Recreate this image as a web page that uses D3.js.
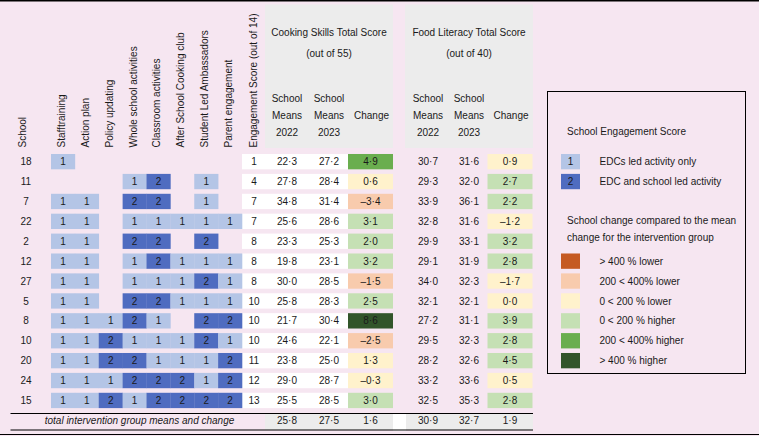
<!DOCTYPE html>
<html>
<head>
<meta charset="utf-8">
<script src="https://cdn.jsdelivr.net/npm/d3@7"></script>
<style>
	body { margin: 0; background: #f6e6f1; }
	svg { display: block; font-family: "Liberation Sans", Arial, sans-serif; font-size: 10px; }
	text { fill: #1a1a1a; }
</style>
</head>
<body>
<svg id="table"></svg>
<script>
let schools = ['18', '11', '7', '22', '2', '12', '27', '5', '8', '10', '20', '24', '15'];
let activities = [
	'Stafftraining',
	'Action plan',
	'Policy updating',
	'Whole school activities',
	'Classroom activities',
	'After School Cooking club',
	'Student Led Ambassadors',
	'Parent engagement'
];
// 0 = nothing, 1 = EDC led, 2 = EDC and school led
let engagementLevels = [
	[1, 0, 0, 0, 0, 0, 0, 0],
	[0, 0, 0, 1, 2, 0, 1, 0],
	[1, 1, 0, 2, 2, 0, 1, 0],
	[1, 1, 0, 1, 1, 1, 1, 1],
	[1, 1, 0, 2, 2, 0, 2, 0],
	[1, 1, 0, 1, 2, 1, 1, 1],
	[1, 1, 0, 1, 1, 1, 2, 1],
	[1, 1, 0, 2, 2, 1, 1, 1],
	[1, 1, 1, 2, 1, 0, 2, 2],
	[1, 1, 2, 1, 1, 1, 2, 1],
	[1, 1, 2, 2, 1, 1, 1, 2],
	[1, 1, 1, 2, 2, 2, 1, 2],
	[1, 1, 2, 1, 2, 2, 2, 2]
];
let engagementScore = [1, 4, 7, 7, 8, 8, 8, 10, 10, 10, 11, 12, 13];

let cookMean2022 = [22.3, 27.8, 34.8, 25.6, 23.3, 19.8, 30.0, 25.8, 21.7, 24.6, 23.8, 29.0, 25.5];
let cookMean2023 = [27.2, 28.4, 31.4, 28.6, 25.3, 23.1, 28.5, 28.3, 30.4, 22.1, 25.0, 28.7, 28.5];
let cookChange = [4.9, 0.6, -3.4, 3.1, 2.0, 3.2, -1.5, 2.5, 8.6, -2.5, 1.3, -0.3, 3.0];
let cookBand = [4, 2, 1, 3, 3, 3, 1, 3, 5, 1, 2, 2, 3];
let cookTotal = [25.8, 27.5, 1.6];

let foodMean2022 = [30.7, 29.3, 33.9, 32.8, 29.9, 29.1, 34.0, 32.1, 27.2, 29.5, 28.2, 33.2, 32.5];
let foodMean2023 = [31.6, 32.0, 36.1, 31.6, 33.1, 31.9, 32.3, 32.1, 31.1, 32.3, 32.6, 33.6, 35.3];
let foodChange = [0.9, 2.7, 2.2, -1.2, 3.2, 2.8, -1.7, 0.0, 3.9, 2.8, 4.5, 0.5, 2.8];
let foodBand = [2, 3, 3, 2, 3, 3, 2, 2, 3, 3, 3, 2, 3];
let foodTotal = [30.9, 32.7, 1.9];

let bandLabels = [
	'> 400 % lower',
	'200 < 400% lower',
	'0 < 200 % lower',
	'0 < 200 % higher',
	'200 < 400% higher',
	'> 400 % higher'
];
let levelLabels = ['EDCs led activity only', 'EDC and school led activity'];

let width = 759, height = 436;
let bandColors = ['#c55a22', '#f8cbad', '#fff2cc', '#c5e0b4', '#6aae4f', '#32552a'];
let levelColors = ['#b4c5e6', '#4f6cc0'];
let grey = '#ececec';

let fmt = (v) => (v < 0 ? '\u2013' : '') + Math.abs(v).toFixed(1).replace('.', '\u00b7');

let svg = d3.select('#table')
	.attr('width', width)
	.attr('height', height);

// SCALES
// rows are shared by the table and the legend swatches
let rowScale = d3.scaleBand()
	.domain(d3.range(13))
	.range([151.7, 410.4])
	.paddingInner(0.23)
	.paddingOuter(0.115);
let rowMid = (i) => rowScale(i) + rowScale.bandwidth() / 2;

let actScale = d3.scaleBand()
	.domain(activities)
	.range([51, 242]);

let colScale = d3.scaleOrdinal()
	.domain(['school', 'score', 'c22', 'c23', 'cchg', 'f22', 'f23', 'fchg'])
	.range([26, 254, 287, 329, 370.5, 428, 469, 510]);

let bandColor = d3.scaleOrdinal().domain(d3.range(6)).range(bandColors);
let levelColor = d3.scaleOrdinal().domain([1, 2]).range(levelColors);

// frame lines
svg.append('line').attr('x1', 0).attr('x2', width).attr('y1', 0.75).attr('y2', 0.75)
	.attr('stroke', '#000').attr('stroke-width', 1.5);
svg.append('line').attr('x1', 0).attr('x2', width).attr('y1', 434.5).attr('y2', 434.5)
	.attr('stroke', '#000').attr('stroke-width', 1);

// grey header panels
svg.append('rect').attr('x', 265).attr('y', 4.5).attr('width', 128).attr('height', 143.5).attr('fill', grey);
svg.append('rect').attr('x', 405).attr('y', 4.5).attr('width', 128).attr('height', 143.5).attr('fill', grey);

// HEADERS
let rotated = ['School'].concat(activities).concat(['Engagement Score (out of 14)']);
let rotX = [colScale('school') - 4].concat(activities.map(a => actScale(a) + actScale.bandwidth() / 2 - 2)).concat([colScale('score') - 1]);
svg.selectAll('.rothead')
	.data(rotated)
	.enter()
	.append('text')
	.attr('class', 'rothead')
	.attr('transform', (d, i) => `translate(${rotX[i] + 4},147.5) rotate(-90)`)
	.text(d => d);

function groupHeader(title, sub, keys) {
	let cx = colScale(keys[1]);
	svg.append('text').attr('x', cx).attr('y', 36).attr('text-anchor', 'middle').text(title);
	svg.append('text').attr('x', cx).attr('y', 56.5).attr('text-anchor', 'middle').text(sub);
	[keys[0], keys[1]].forEach((k, j) => {
		['School', 'Means', j == 0 ? '2022' : '2023'].forEach((t, m) => {
			svg.append('text').attr('x', colScale(k)).attr('y', 101.5 + m * 17)
				.attr('text-anchor', 'middle').text(t);
		});
	});
	svg.append('text').attr('x', colScale(keys[2]) + 1).attr('y', 118.5)
		.attr('text-anchor', 'middle').text('Change');
}
groupHeader('Cooking Skills Total Score', '(out of 55)', ['c22', 'c23', 'cchg']);
groupHeader('Food Literacy Total Score', '(out of 40)', ['f22', 'f23', 'fchg']);

// BODY
let rows = svg.selectAll('.row')
	.data(schools)
	.enter()
	.append('g')
	.attr('class', 'row');

// white block behind engagement score and cooking means
rows.append('rect')
	.attr('x', 242)
	.attr('y', (d, i) => rowScale(i))
	.attr('width', 106)
	.attr('height', rowScale.bandwidth())
	.attr('fill', '#fff');

// engagement cells
rows.each(function(d, i) {
	let cells = engagementLevels[i]
		.map((v, k) => ({ v: v, act: activities[k] }))
		.filter(c => c.v > 0);
	let g = d3.select(this);
	g.selectAll('.cell')
		.data(cells)
		.enter()
		.append('rect')
		.attr('class', 'cell')
		.attr('x', c => actScale(c.act))
		.attr('y', rowScale(i))
		.attr('width', actScale.bandwidth() + 0.3)
		.attr('height', rowScale.bandwidth())
		.attr('fill', c => levelColor(c.v));
	g.selectAll('.celltext')
		.data(cells)
		.enter()
		.append('text')
		.attr('class', 'celltext')
		.attr('x', c => actScale(c.act) + actScale.bandwidth() / 2)
		.attr('y', rowMid(i))
		.attr('dy', '0.36em')
		.attr('text-anchor', 'middle')
		.text(c => c.v);
});

// change cells
rows.append('rect')
	.attr('x', colScale('cchg') - 22.5)
	.attr('y', (d, i) => rowScale(i))
	.attr('width', 45)
	.attr('height', rowScale.bandwidth())
	.attr('fill', (d, i) => bandColor(cookBand[i]));
rows.append('rect')
	.attr('x', colScale('fchg') - 22.5)
	.attr('y', (d, i) => rowScale(i))
	.attr('width', 45)
	.attr('height', rowScale.bandwidth())
	.attr('fill', (d, i) => bandColor(foodBand[i]));

let cols = [
	['school', (i) => schools[i]],
	['score', (i) => engagementScore[i]],
	['c22', (i) => fmt(cookMean2022[i])],
	['c23', (i) => fmt(cookMean2023[i])],
	['cchg', (i) => fmt(cookChange[i])],
	['f22', (i) => fmt(foodMean2022[i])],
	['f23', (i) => fmt(foodMean2023[i])],
	['fchg', (i) => fmt(foodChange[i])]
];
cols.forEach(([key, val]) => {
	rows.append('text')
		.attr('x', colScale(key))
		.attr('y', (d, i) => rowMid(i))
		.attr('dy', '0.36em')
		.attr('text-anchor', 'middle')
		.text((d, i) => val(i));
});

// TOTAL ROW
let totTop = 413.5, totBot = 430;
svg.append('rect').attr('x', 265).attr('y', totTop).attr('width', 128).attr('height', totBot - totTop).attr('fill', grey);
svg.append('rect').attr('x', 393).attr('y', totTop).attr('width', 13).attr('height', totBot - totTop + 1).attr('fill', '#fff');
svg.append('rect').attr('x', 406).attr('y', totTop).attr('width', 127).attr('height', totBot - totTop).attr('fill', grey);
[totTop, totBot].forEach(y => {
	svg.append('line').attr('x1', 10.5).attr('x2', 533).attr('y1', y).attr('y2', y)
		.attr('stroke', '#000').attr('stroke-width', 1);
});
svg.append('text')
	.attr('x', 139.5).attr('y', 424)
	.attr('text-anchor', 'middle')
	.style('font-style', 'italic')
	.text('total intervention group means and change');
['c22', 'c23', 'cchg'].forEach((k, j) => {
	svg.append('text').attr('x', colScale(k)).attr('y', 424).attr('text-anchor', 'middle').text(fmt(cookTotal[j]));
});
['f22', 'f23', 'fchg'].forEach((k, j) => {
	svg.append('text').attr('x', colScale(k)).attr('y', 424).attr('text-anchor', 'middle').text(fmt(foodTotal[j]));
});

// LEGEND
let legend = svg.append('g');
legend.append('rect')
	.attr('x', 547.5).attr('y', 91.5)
	.attr('width', 198).attr('height', 282)
	.attr('fill', 'none').attr('stroke', '#000').attr('stroke-width', 1);
legend.append('text').attr('x', 567).attr('y', 135).text('School Engagement Score');

let lev = legend.selectAll('.lev')
	.data(levelLabels)
	.enter()
	.append('g')
	.attr('class', 'lev');
lev.append('rect')
	.attr('x', 561).attr('y', (d, i) => rowScale(i))
	.attr('width', 19).attr('height', rowScale.bandwidth())
	.attr('fill', (d, i) => levelColor(i + 1));
lev.append('text')
	.attr('x', 570.5).attr('y', (d, i) => rowMid(i)).attr('dy', '0.36em')
	.attr('text-anchor', 'middle').text((d, i) => i + 1);
lev.append('text')
	.attr('x', 599.5).attr('y', (d, i) => rowMid(i)).attr('dy', '0.36em')
	.text(d => d);

legend.append('text').attr('x', 567).attr('y', 223.5).text('School change compared to the mean');
legend.append('text').attr('x', 567).attr('y', 241).text('change for the intervention group');

let bands = legend.selectAll('.band')
	.data(bandLabels)
	.enter()
	.append('g')
	.attr('class', 'band');
bands.append('rect')
	.attr('x', 561).attr('y', (d, i) => rowScale(i + 5))
	.attr('width', 19).attr('height', rowScale.bandwidth())
	.attr('fill', (d, i) => bandColor(i));
bands.append('text')
	.attr('x', 599.5).attr('y', (d, i) => rowMid(i + 5)).attr('dy', '0.36em')
	.text(d => d);
</script>
</body>
</html>
